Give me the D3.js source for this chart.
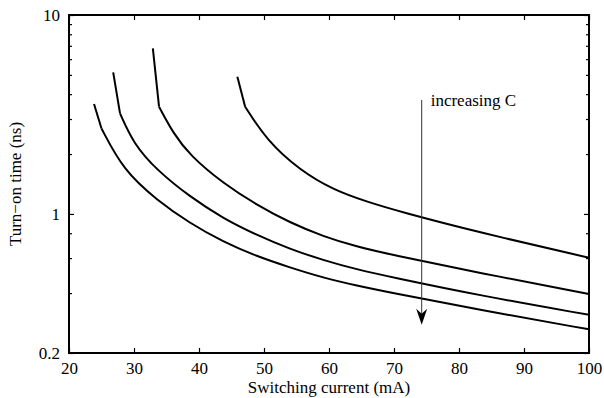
<!DOCTYPE html>
<html>
<head>
<meta charset="utf-8">
<script src="https://cdn.jsdelivr.net/npm/d3@7"></script>
<style>
  body { margin: 0; background: #fff; }
  svg text { font-family: "Liberation Serif", "Times New Roman", serif; fill: #000; }
</style>
</head>
<body>
<div id="chart"></div>
<script>
// Turn-on time vs switching current for four capacitance values
const curveA_I = [23.85, 25.0, 28.35, 33.5, 38.6, 43.7, 48.9, 54.0, 59.1, 64.3, 69.4, 83.2, 100];
const curveA_t = [3.57, 2.69, 1.66, 1.175, 0.897, 0.725, 0.612, 0.538, 0.478, 0.436, 0.403, 0.329, 0.263];

const curveB_I = [26.8, 27.85, 29.9, 33.5, 38.6, 43.7, 48.9, 54.0, 59.1, 64.3, 69.4, 83.2, 100];
const curveB_t = [5.15, 3.20, 2.26, 1.66, 1.22, 0.950, 0.783, 0.666, 0.586, 0.526, 0.483, 0.389, 0.311];

const curveC_I = [32.9, 33.85, 36.05, 38.6, 43.7, 48.9, 54.0, 59.1, 64.3, 69.4, 83.2, 100];
const curveC_t = [6.80, 3.46, 2.54, 1.97, 1.425, 1.108, 0.904, 0.771, 0.684, 0.625, 0.505, 0.396];

const curveD_I = [45.9, 47.1, 50.4, 55.5, 60.7, 65.8, 70.9, 83.2, 100];
const curveD_t = [4.90, 3.46, 2.35, 1.66, 1.32, 1.153, 1.027, 0.806, 0.602];

const xTicks = [20, 30, 40, 50, 60, 70, 80, 90, 100];
const yMajor = [0.2, 1, 10];
const yMinor = [0.4, 0.6, 0.8, 2, 3, 4, 5, 6, 7, 8, 9];

// annotation arrow (data units)
const arrowI = 74.26;
const arrowTop = 3.74;
const arrowTip = 0.277;
const arrowText = 'increasing C';

const width = 604, height = 398;
const margin = { top: 15, right: 15, bottom: 45, left: 69 };
const w = width - margin.left - margin.right;
const h = height - margin.top - margin.bottom;

const svg = d3.select('#chart').append('svg')
    .attr('width', width)
    .attr('height', height);

const g = svg.append('g')
    .attr('transform', `translate(${margin.left},${margin.top})`);

const x = d3.scaleLinear().domain([20, 100]).range([0, w]);
const y = d3.scaleLog().domain([0.2, 10]).range([h, 0]);

const series = [
    { I: curveA_I, t: curveA_t },
    { I: curveB_I, t: curveB_t },
    { I: curveC_I, t: curveC_t },
    { I: curveD_I, t: curveD_t }
].map(s => s.I.map((v, i) => ({ I: v, t: s.t[i] })));

// curves: straight lead-in segment, then smooth body
const leadLine = d3.line().x(d => x(d.I)).y(d => y(d.t));
const bodyLine = d3.line().x(d => x(d.I)).y(d => y(d.t)).curve(d3.curveBasis);

series.forEach(pts => {
    g.append('path')
        .attr('d', leadLine(pts.slice(0, 2)))
        .attr('fill', 'none')
        .attr('stroke', '#000')
        .attr('stroke-width', 2);
    g.append('path')
        .attr('d', bodyLine(pts.slice(1)))
        .attr('fill', 'none')
        .attr('stroke', '#000')
        .attr('stroke-width', 2);
});

// Axes (ticks pointing inward, box all round)
const fs = '17px';

const xAxis = g.append('g')
    .attr('transform', `translate(0,${h})`)
    .call(d3.axisBottom(x).tickValues(xTicks).tickSizeInner(-5).tickSizeOuter(0).tickPadding(9));
xAxis.selectAll('text').style('font-size', fs);

g.append('g')
    .call(d3.axisTop(x).tickValues(xTicks).tickSizeInner(-5).tickSizeOuter(0).tickFormat(''));

const yAxis = g.append('g')
    .call(d3.axisLeft(y).tickValues(yMajor).tickSizeInner(-5).tickSizeOuter(0).tickPadding(9)
        .tickFormat(d3.format('~g')));
yAxis.selectAll('text').style('font-size', fs);

g.append('g')
    .call(d3.axisLeft(y).tickValues(yMinor).tickSizeInner(-3).tickSizeOuter(0).tickFormat(''));

g.append('g')
    .attr('transform', `translate(${w},0)`)
    .call(d3.axisRight(y).tickValues(yMajor).tickSizeInner(-5).tickSizeOuter(0).tickFormat(''));
g.append('g')
    .attr('transform', `translate(${w},0)`)
    .call(d3.axisRight(y).tickValues(yMinor).tickSizeInner(-3).tickSizeOuter(0).tickFormat(''));

g.selectAll('.domain').remove();
g.selectAll('.tick line').attr('stroke', '#000').attr('stroke-width', 1.2);

g.append('rect')
    .attr('width', w)
    .attr('height', h)
    .attr('fill', 'none')
    .attr('stroke', '#000')
    .attr('stroke-width', 2);

// Axis labels
svg.append('text')
    .attr('x', margin.left + w / 2)
    .attr('y', 393)
    .style('text-anchor', 'middle')
    .style('font-size', fs)
    .text('Switching current (mA)');

svg.append('text')
    .attr('transform', `translate(21,${margin.top + h / 2}) rotate(-90)`)
    .style('text-anchor', 'middle')
    .style('font-size', fs)
    .text('Turn\u2212on time (ns)');

// Annotation arrow
const ax = x(arrowI);
const yTop = y(arrowTop);
const yTip = y(arrowTip);
const headLen = 16, headHalf = 5.5, notch = 5;

g.append('line')
    .attr('x1', ax).attr('x2', ax)
    .attr('y1', yTop).attr('y2', yTip - headLen + notch)
    .attr('stroke', '#333')
    .attr('stroke-width', 1);

g.append('path')
    .attr('d', `M${ax},${yTip} L${ax - headHalf},${yTip - headLen} L${ax},${yTip - headLen + notch} L${ax + headHalf},${yTip - headLen} Z`)
    .attr('fill', '#000');

g.append('text')
    .attr('x', ax + 9)
    .attr('y', yTop + 6)
    .style('font-size', fs)
    .text(arrowText);
</script>
</body>
</html>
